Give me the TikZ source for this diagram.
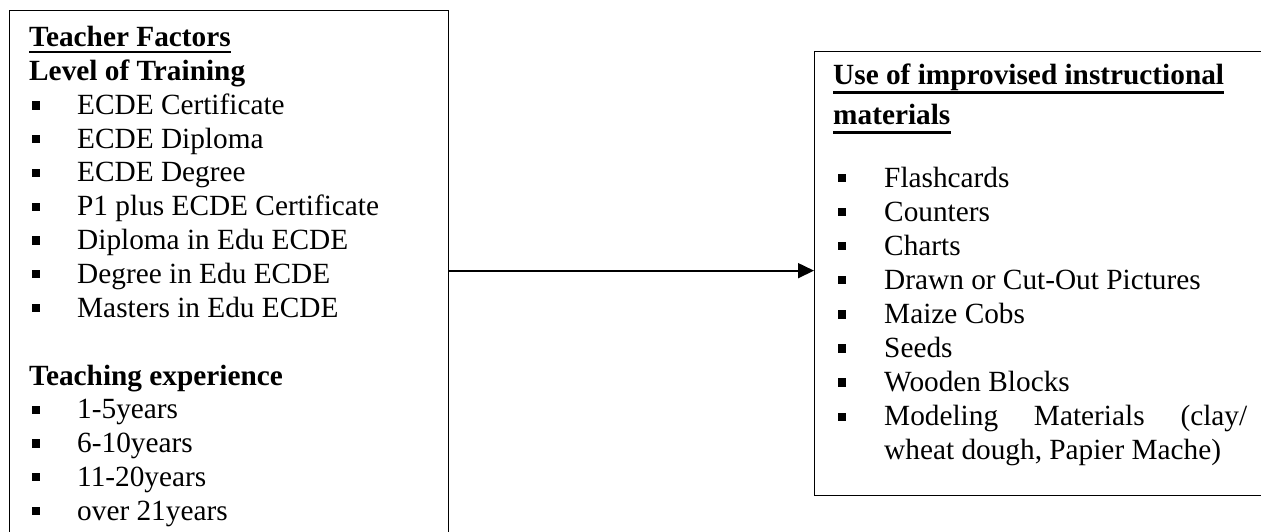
\documentclass[tikz,border=0pt]{standalone}
\usepackage{fontspec}
\setmainfont{Liberation Serif}
\usetikzlibrary{arrows.meta}
\begin{document}
\begin{tikzpicture}[x=1pt,y=-1pt,
  frame/.style={draw, line width=1.3pt, inner sep=0pt, anchor=north west},
  txt/.style={anchor=base west, inner sep=0pt, font=\fontsize{29.3}{33.75}\selectfont},
  head/.style={anchor=base west, inner sep=0pt, font=\fontsize{29.3}{33.75}\selectfont\bfseries},
  sq/.style={fill=black, inner sep=0pt, minimum size=8.3pt},
  uline/.style={line width=2.6pt},
  link/.style={line width=1.7pt, -{Triangle[length=16pt,width=15pt]}}]
\useasboundingbox (0,0) rectangle (1261,532);

% the two boxes
\node[frame, minimum width=439pt, minimum height=545pt] (factors) at (9,10) {};
\node[frame, minimum width=460pt, minimum height=444pt] (outcome) at (814,51) {};

% left box: teacher factors
\node[head] (h0) at (29,47) {Teacher Factors};
\draw[uline] ([yshift=-5pt]h0.base west) -- ([yshift=-5pt]h0.base east);
\node[head] (h1) at (29,80.75) {Level of Training};
\foreach \t [count=\i] in {ECDE Certificate, ECDE Diploma, ECDE Degree,
    P1 plus ECDE Certificate, Diploma in Edu ECDE, Degree in Edu ECDE,
    Masters in Edu ECDE} {
  \node[txt] (lt\i) at (77,{80.75+33.75*\i}) {\t};
  \node[sq] (lb\i) at (36,{80.75+33.75*\i-9}) {};
}
\node[head] (h2) at (29,385) {Teaching experience};
\foreach \t [count=\i] in {1-5years, 6-10years, 11-20years, over 21years} {
  \node[txt] (et\i) at (77,{385+33.75*\i}) {\t};
  \node[sq] (eb\i) at (36,{385+33.75*\i-9}) {};
}

% right box: improvised materials
\node[head] (r0) at (833,85) {Use of improvised instructional};
\draw[uline] ([yshift=-7.5pt]r0.base west) -- ([yshift=-7.5pt]r0.base east);
\node[head] (r1) at (833,125) {materials};
\draw[uline] ([yshift=-7.5pt]r1.base west) -- ([yshift=-7.5pt]r1.base east);
\foreach \t [count=\i from 0] in {Flashcards, Counters, Charts,
    Drawn or Cut-Out Pictures, Maize Cobs, Seeds, Wooden Blocks} {
  \node[txt] (mt\i) at (884,{187+34.1*\i}) {\t};
  \node[sq] (mb\i) at (842,{187+34.1*\i-9}) {};
}
\node[txt] (mt7) at (884,425.7) {\makebox[363pt][s]{Modeling\hfill Materials\hfill (clay/}};
\node[sq] (mb7) at (842,416.7) {};
\node[txt] (mt8) at (884,459.8) {wheat dough, Papier Mache)};

% connector
\path ([yshift=3pt]outcome.west) coordinate (tip);
\draw[link] (tip -| factors.east) -- (tip);
\end{tikzpicture}
\end{document}
